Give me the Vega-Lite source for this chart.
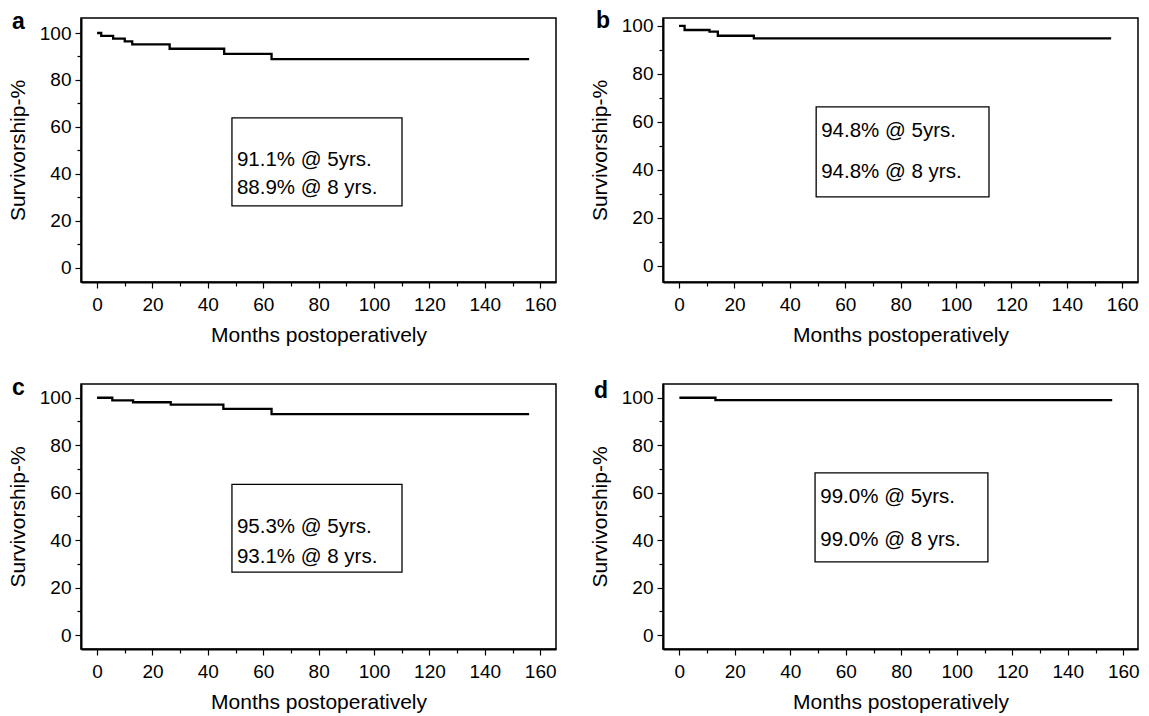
{
  "$schema": "https://vega.github.io/schema/vega-lite/v6.json",
  "background": "white",
  "padding": {"left": 6, "top": 9, "right": 0, "bottom": 0},
  "datasets": {
    "curves": [
      {"p": "a", "x": 0, "y": 100}, {"p": "a", "x": 1.5, "y": 98.8}, {"p": "a", "x": 5.8, "y": 97.6}, {"p": "a", "x": 10, "y": 96.4}, {"p": "a", "x": 12.7, "y": 95.2}, {"p": "a", "x": 26.2, "y": 93.3}, {"p": "a", "x": 45.9, "y": 91.1}, {"p": "a", "x": 63, "y": 88.9}, {"p": "a", "x": 156, "y": 88.9},
      {"p": "b", "x": 0, "y": 100}, {"p": "b", "x": 2, "y": 98.3}, {"p": "b", "x": 11, "y": 97.6}, {"p": "b", "x": 14, "y": 95.9}, {"p": "b", "x": 27, "y": 94.8}, {"p": "b", "x": 156, "y": 94.8},
      {"p": "c", "x": 0, "y": 100}, {"p": "c", "x": 5.5, "y": 98.9}, {"p": "c", "x": 13, "y": 98.1}, {"p": "c", "x": 26.6, "y": 97.1}, {"p": "c", "x": 45.6, "y": 95.3}, {"p": "c", "x": 63, "y": 93.1}, {"p": "c", "x": 156, "y": 93.1},
      {"p": "d", "x": 0, "y": 100}, {"p": "d", "x": 13, "y": 99.0}, {"p": "d", "x": 156, "y": 99.0}
    ],
    "boxes": [
      {"p": "a", "x": 48.7, "x2": 110.1, "y": 63.8, "y2": 26.3},
      {"p": "b", "x": 49.5, "x2": 111.9, "y": 66.2, "y2": 28.7},
      {"p": "c", "x": 48.7, "x2": 110.1, "y": 63.5, "y2": 26.5},
      {"p": "d", "x": 48.9, "x2": 111.2, "y": 68.3, "y2": 30.8}
    ],
    "notes": [
      {"p": "a", "x": 50.5, "y": 45.9, "label": "91.1% @ 5yrs."},
      {"p": "a", "x": 50.5, "y": 34.0, "label": "88.9% @ 8 yrs."},
      {"p": "b", "x": 51.3, "y": 56.2, "label": "94.8% @ 5yrs."},
      {"p": "b", "x": 51.3, "y": 39.1, "label": "94.8% @ 8 yrs."},
      {"p": "c", "x": 50.5, "y": 45.5, "label": "95.3% @ 5yrs."},
      {"p": "c", "x": 50.5, "y": 32.9, "label": "93.1% @ 8 yrs."},
      {"p": "d", "x": 50.8, "y": 58.2, "label": "99.0% @ 5yrs."},
      {"p": "d", "x": 50.8, "y": 40.0, "label": "99.0% @ 8 yrs."}
    ]
  },
  "columns": 2,
  "bounds": "flush",
  "spacing": {"row": 102, "column": 107},
  "concat": [
    {
      "width": 475, "height": 264,
      "title": {"text": "a", "anchor": "start", "frame": "group", "dx": -69, "dy": 25, "offset": -9, "baseline": "alphabetic"},
      "encoding": {
        "x": {"field": "x", "type": "quantitative", "title": "Months postoperatively", "scale": {"domain": [-5.8, 165.7], "nice": false, "zero": false}, "axis": {"values": [0,10,20,30,40,50,60,70,80,90,100,110,120,130,140,150,160], "labelExpr": "datum.value % 20 === 0 ? datum.label : ''", "tickSize": {"condition": {"test": "datum.value % 20 === 0", "value": 6}, "value": 4}}},
        "y": {"field": "y", "type": "quantitative", "title": "Survivorship-%", "scale": {"domain": [-6.1, 106.4], "nice": false, "zero": false}, "axis": {"values": [0,10,20,30,40,50,60,70,80,90,100], "labelExpr": "datum.value % 20 === 0 ? datum.label : ''", "tickSize": {"condition": {"test": "datum.value % 20 === 0", "value": 6}, "value": 4}}}
      },
      "layer": [
        {"data": {"name": "boxes"}, "transform": [{"filter": "datum.p === 'a'"}], "mark": {"type": "rect", "fill": "white", "stroke": "black", "strokeWidth": 1.3}, "encoding": {"x2": {"field": "x2"}, "y2": {"field": "y2"}}},
        {"data": {"name": "notes"}, "transform": [{"filter": "datum.p === 'a'"}], "mark": {"type": "text", "align": "left", "baseline": "middle", "fontSize": 20.5, "font": "Liberation Sans", "color": "black"}, "encoding": {"text": {"field": "label"}}},
        {"data": {"name": "curves"}, "transform": [{"filter": "datum.p === 'a'"}], "mark": {"type": "line", "interpolate": "step-after", "color": "black", "strokeWidth": 2.3}, "encoding": {}}
      ]
    },
    {
      "width": 475, "height": 264,
      "title": {"text": "b", "anchor": "start", "frame": "group", "dx": -67, "dy": 25, "offset": -9, "baseline": "alphabetic"},
      "encoding": {
        "x": {"field": "x", "type": "quantitative", "title": "Months postoperatively", "scale": {"domain": [-5.8, 165.7], "nice": false, "zero": false}, "axis": {"values": [0,10,20,30,40,50,60,70,80,90,100,110,120,130,140,150,160], "labelExpr": "datum.value % 20 === 0 ? datum.label : ''", "tickSize": {"condition": {"test": "datum.value % 20 === 0", "value": 6}, "value": 4}}},
        "y": {"field": "y", "type": "quantitative", "title": "Survivorship-%", "scale": {"domain": [-6.8, 103.3], "nice": false, "zero": false}, "axis": {"values": [0,10,20,30,40,50,60,70,80,90,100], "labelExpr": "datum.value % 20 === 0 ? datum.label : ''", "tickSize": {"condition": {"test": "datum.value % 20 === 0", "value": 6}, "value": 4}}}
      },
      "layer": [
        {"data": {"name": "boxes"}, "transform": [{"filter": "datum.p === 'b'"}], "mark": {"type": "rect", "fill": "white", "stroke": "black", "strokeWidth": 1.3}, "encoding": {"x2": {"field": "x2"}, "y2": {"field": "y2"}}},
        {"data": {"name": "notes"}, "transform": [{"filter": "datum.p === 'b'"}], "mark": {"type": "text", "align": "left", "baseline": "middle", "fontSize": 20.5, "font": "Liberation Sans", "color": "black"}, "encoding": {"text": {"field": "label"}}},
        {"data": {"name": "curves"}, "transform": [{"filter": "datum.p === 'b'"}], "mark": {"type": "line", "interpolate": "step-after", "color": "black", "strokeWidth": 2.3}, "encoding": {}}
      ]
    },
    {
      "width": 475, "height": 265,
      "title": {"text": "c", "anchor": "start", "frame": "group", "dx": -69, "dy": 23, "offset": -11, "baseline": "alphabetic"},
      "encoding": {
        "x": {"field": "x", "type": "quantitative", "title": "Months postoperatively", "scale": {"domain": [-5.8, 165.7], "nice": false, "zero": false}, "axis": {"values": [0,10,20,30,40,50,60,70,80,90,100,110,120,130,140,150,160], "labelExpr": "datum.value % 20 === 0 ? datum.label : ''", "tickSize": {"condition": {"test": "datum.value % 20 === 0", "value": 6}, "value": 4}}},
        "y": {"field": "y", "type": "quantitative", "title": "Survivorship-%", "scale": {"domain": [-5.9, 105.8], "nice": false, "zero": false}, "axis": {"values": [0,10,20,30,40,50,60,70,80,90,100], "labelExpr": "datum.value % 20 === 0 ? datum.label : ''", "tickSize": {"condition": {"test": "datum.value % 20 === 0", "value": 6}, "value": 4}}}
      },
      "layer": [
        {"data": {"name": "boxes"}, "transform": [{"filter": "datum.p === 'c'"}], "mark": {"type": "rect", "fill": "white", "stroke": "black", "strokeWidth": 1.3}, "encoding": {"x2": {"field": "x2"}, "y2": {"field": "y2"}}},
        {"data": {"name": "notes"}, "transform": [{"filter": "datum.p === 'c'"}], "mark": {"type": "text", "align": "left", "baseline": "middle", "fontSize": 20.5, "font": "Liberation Sans", "color": "black"}, "encoding": {"text": {"field": "label"}}},
        {"data": {"name": "curves"}, "transform": [{"filter": "datum.p === 'c'"}], "mark": {"type": "line", "interpolate": "step-after", "color": "black", "strokeWidth": 2.3}, "encoding": {}}
      ]
    },
    {
      "width": 475, "height": 265,
      "title": {"text": "d", "anchor": "start", "frame": "group", "dx": -69, "dy": 25, "offset": -12, "baseline": "alphabetic"},
      "encoding": {
        "x": {"field": "x", "type": "quantitative", "title": "Months postoperatively", "scale": {"domain": [-5.9, 165.3], "nice": false, "zero": false}, "axis": {"values": [0,10,20,30,40,50,60,70,80,90,100,110,120,130,140,150,160], "labelExpr": "datum.value % 20 === 0 ? datum.label : ''", "tickSize": {"condition": {"test": "datum.value % 20 === 0", "value": 6}, "value": 4}}},
        "y": {"field": "y", "type": "quantitative", "title": "Survivorship-%", "scale": {"domain": [-5.9, 105.8], "nice": false, "zero": false}, "axis": {"values": [0,10,20,30,40,50,60,70,80,90,100], "labelExpr": "datum.value % 20 === 0 ? datum.label : ''", "tickSize": {"condition": {"test": "datum.value % 20 === 0", "value": 6}, "value": 4}}}
      },
      "layer": [
        {"data": {"name": "boxes"}, "transform": [{"filter": "datum.p === 'd'"}], "mark": {"type": "rect", "fill": "white", "stroke": "black", "strokeWidth": 1.3}, "encoding": {"x2": {"field": "x2"}, "y2": {"field": "y2"}}},
        {"data": {"name": "notes"}, "transform": [{"filter": "datum.p === 'd'"}], "mark": {"type": "text", "align": "left", "baseline": "middle", "fontSize": 20.5, "font": "Liberation Sans", "color": "black"}, "encoding": {"text": {"field": "label"}}},
        {"data": {"name": "curves"}, "transform": [{"filter": "datum.p === 'd'"}], "mark": {"type": "line", "interpolate": "step-after", "color": "black", "strokeWidth": 2.3}, "encoding": {}}
      ]
    }
  ],
  "config": {
    "font": "Liberation Sans",
    "view": {"stroke": "black", "strokeWidth": 1.5},
    "title": {"font": "Liberation Sans", "fontSize": 23, "fontWeight": "bold", "color": "black"},
    "axis": {
      "grid": false,
      "domainColor": "black", "domainWidth": 2,
      "tickColor": "black", "tickWidth": 1.2,
      "labelFont": "Liberation Sans", "labelFontSize": 19, "labelColor": "black",
      "titleFont": "Liberation Sans", "titleFontSize": 21, "titleFontWeight": "normal", "titleColor": "black"
    },
    "axisX": {"labelPadding": 7, "titlePadding": 10},
    "axisY": {"labelPadding": 4, "titlePadding": 11}
  }
}
